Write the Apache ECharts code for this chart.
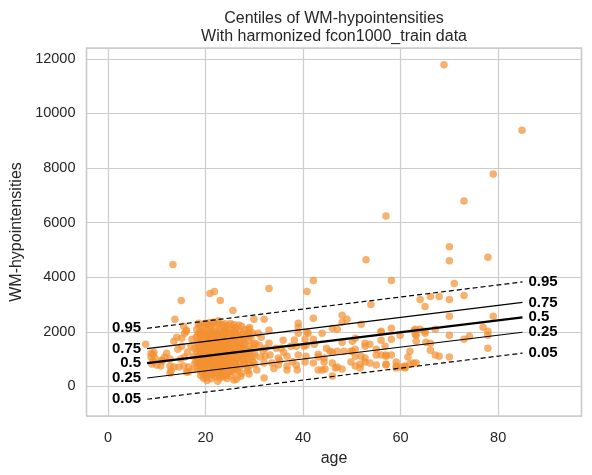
<!DOCTYPE html>
<html><head><meta charset="utf-8">
<script src="https://cdn.jsdelivr.net/npm/echarts@6/dist/echarts.min.js"></script>
<style>html,body{margin:0;padding:0;background:#fff}#c{width:592px;height:475px}</style>
</head><body><div id="c"></div>
<script>
const titleLines = ['Centiles of WM-hypointensities', 'With harmonized fcon1000_train data'];
const xAxisName = 'age';
const yAxisName = 'WM-hypointensities';

// [age, WM-hypointensities]
const youngPts = [[7.7,1545],[8.8,1217],[9.4,1253],[8.8,1071],[9.6,1035],[9.2,925],[9.0,816],[10.0,780],[11.0,962],[10.8,743],[12.9,561],[12.7,743],[11.6,1071],[12.0,1217],[13.5,1654],[14.1,1800],[15.1,1763],[15.1,1472],[14.3,1363],[14.9,998],[15.7,1071],[15.5,743],[14.5,707],[13.5,707],[12.7,488],[16.5,707],[16.1,525],[16.3,1253],[17.0,1472],[17.2,1727],[16.1,2055],[15.5,2200],[15.7,1945],[13.3,4459],[15.0,3148],[13.7,2455],[16.0,2018],[9.2,1180],[11.1,925],[12.7,998],[16.4,525],[17.5,1100],[17.8,850],[17.4,620],[17.7,1380]];

const clusterPts = [[18.6,2310],[20.2,2285],[21.7,2330],[23.4,2270],[25.1,2300],[26.8,2250],
[19.1,2190],[19.8,2215],[21.0,2180],[22.3,2230],[24.2,2170],[27.4,2200],[29.0,2160],
[18.2,2080],[20.6,2120],[22.8,2090],[23.9,2110],[25.6,2060],[26.2,2130],[28.1,2070],
[18.9,2010],[19.5,1980],[21.3,2030],[22.0,1990],[23.1,2015],[24.7,1970],[27.0,2000],[29.6,1960],
[18.4,1890],[20.0,1920],[20.9,1880],[22.6,1910],[24.0,1870],[25.3,1930],[26.5,1890],[28.3,1850],
[18.1,1810],[19.3,1780],[20.4,1820],[21.5,1790],[23.6,1805],[24.4,1770],[25.9,1815],[27.7,1760],[29.3,1790],
[18.7,1690],[19.9,1720],[21.2,1680],[22.2,1710],[23.0,1695],[24.9,1670],[26.0,1705],[27.2,1660],[28.8,1690],
[18.3,1610],[19.6,1580],[20.7,1620],[21.8,1595],[22.9,1570],[23.8,1615],[25.5,1590],[26.7,1560],[28.0,1600],[30.2,1580],
[19.0,1490],[20.3,1520],[21.4,1480],[22.4,1510],[24.1,1470],[25.0,1505],[26.3,1490],[27.5,1460],[29.1,1475],
[18.5,1410],[19.7,1390],[20.8,1420],[21.9,1380],[23.3,1405],[24.6,1375],[25.8,1400],[27.1,1385],[28.4,1360],[29.8,1395],
[18.2,1290],[19.2,1310],[20.5,1280],[21.6,1320],[22.7,1295],[23.7,1270],[24.3,1305],[26.1,1285],[27.9,1300],[28.9,1270],
[18.8,1210],[20.1,1190],[21.1,1220],[22.1,1180],[23.5,1205],[24.8,1175],[25.4,1210],[26.6,1190],[28.2,1165],[30.0,1200],
[18.4,1090],[19.4,1110],[20.6,1080],[21.7,1105],[22.5,1070],[23.2,1095],[24.5,1115],[25.7,1075],[27.3,1090],[29.4,1060],
[18.9,1010],[20.0,990],[21.0,1020],[22.2,985],[23.9,1005],[25.2,975],[26.4,1000],[27.6,980],[28.6,1015],
[18.1,905],[19.5,880],[20.7,915],[21.4,890],[22.8,870],[24.0,910],[24.9,885],[26.9,895],[28.0,860],[29.7,900],
[18.6,810],[19.8,790],[21.3,805],[22.4,780],[23.4,815],[25.1,795],[26.2,770],[27.8,800],[29.2,785],
[18.3,700],[19.1,720],[20.4,690],[21.8,710],[23.0,685],[24.3,705],[25.6,680],[27.0,715],[28.5,690],
[18.8,600],[20.2,585],[21.5,615],[22.6,590],[23.7,605],[25.3,575],[26.6,600],[28.7,580],
[19.3,500],[20.8,485],[22.0,510],[23.2,490],[24.6,470],[26.0,505],[27.4,480],
[19.0,395],[20.5,410],[21.9,380],[23.5,400],[25.0,390],[27.2,370],
[19.6,300],[21.2,280],[22.9,310],[24.4,290],[26.3,260],
[20.3,210],[22.5,190],[25.8,230],
[19.4,1950],[20.6,1750],[21.9,1850],[23.2,1650],[24.5,1550],[20.1,1450],[22.2,1350],[23.8,1250],[19.9,1150],[21.2,1050],[22.9,950],[24.3,850],[20.9,750],[22.4,650],[19.6,550],[23.6,450],[21.6,1600],[20.9,1300],[24.1,1250],[22.6,1450],[19.2,1700],[23.7,1950],[21.1,2250],[24.7,2230],[25.9,2150],[20.4,1000],[23.3,1150],[22.0,1750],[19.0,850],[24.9,1050],
[18.5,2250],[19.9,2300],[20.8,2340],[22.7,2310],[24.0,2290],[25.8,2260],
[18.7,1950],[20.4,1990],[21.7,1960],[23.5,1930],[24.8,1880],[26.1,1960],
[19.6,1850],[21.0,1770],[22.4,1830],[23.2,1750],[25.5,1740],[26.9,1800],
[18.5,1530],[19.8,1640],[21.1,1540],[22.0,1640],[23.5,1540],[24.4,1640],[26.0,1600],[27.8,1530],
[18.9,1340],[20.2,1370],[21.3,1420],[22.9,1370],[24.0,1440],[25.1,1340],[26.9,1450],
[19.1,1240],[20.4,1130],[21.9,1250],[22.9,1150],[24.0,1150],[25.9,1240],[27.0,1200],
[18.6,950],[19.8,1060],[21.6,960],[23.1,1040],[24.4,980],[25.8,940],[26.9,1050],
[19.3,760],[20.0,860],[21.6,840],[23.0,780],[24.6,760],[25.9,850],
[18.9,650],[20.7,620],[21.9,560],[23.3,630],[24.9,620],[26.2,650],
[19.9,450],[21.3,440],[22.7,420],[24.2,430],[20.0,330],[23.8,340],
[20.9,3402],[21.8,3475],[23.0,3148],[25.6,2783],[22.6,2404],[21.5,2346],[24.0,2018],[25.0,1945],[27.7,1945],[28.5,1909],[30.8,1945]];

const midPts = [[33.0,3585],[42.1,3876],[40.8,3475],[42.1,2492],[48.0,2601],[39.0,2310],[29.9,2455],[32.0,2455],[33.0,2055],[28.9,2091],[29.1,1909],[40.8,1982],[46.0,2127],[47.0,2091],[48.0,2346],[49.0,2455],[48.0,1617],[50.1,1654],[35.9,1690],[37.5,1472],[38.6,1472],[40.4,1727],[40.6,1508],[42.3,1545],[29.9,1545],[31.0,1508],[32.2,1399],[34.5,1399],[35.5,1399],[28.3,1144],[28.9,1217],[29.9,1107],[31.2,1071],[32.2,1107],[33.2,1144],[34.9,1035],[36.7,1107],[39.0,1144],[40.6,1107],[43.1,1071],[44.3,1035],[46.0,1253],[47.0,1290],[48.4,1290],[50.1,1290],[28.7,889],[30.1,816],[32.0,852],[33.6,852],[34.9,780],[36.7,743],[38.6,780],[40.4,889],[42.1,852],[44.3,889],[46.0,852],[28.9,452],[32.0,306],[36.7,597],[38.8,597],[43.1,597],[44.5,634],[46.0,379],[46.6,670],[48.0,634],[39.0,2164],[41.0,1945],[43.9,1945],[39.0,1945],[42.1,1727],[31.4,1800],[33.0,1581],[40.2,1472],[43.1,1180],[45.5,1290],[43.9,597],[47.0,707],[30.5,600],[34.0,650],[35.2,950],[37.8,900],[31.8,1300],[36.0,1250],[44.8,1400],[38.2,1700]];

const oldPts = [[52.9,4641],[58.1,3876],[53.9,3002],[56.0,2018],[58.1,2127],[62.8,2055],[63.2,1872],[51.9,2273],[52.7,1581],[52.7,1472],[55.0,1363],[56.0,1144],[57.0,1144],[58.1,1144],[61.9,1290],[61.5,1071],[57.0,816],[59.1,889],[60.9,707],[62.6,852],[50.7,1763],[50.7,1363],[53.7,1545],[66.1,1326],[49.8,1290],[56.8,1472],[56.0,1982],[63.0,2091],[64.0,2091],[65.0,2018],[67.1,2091],[59.9,1872],[63.0,1909],[56.0,1690],[58.1,1727],[63.2,1654],[65.2,1617],[50.7,1107],[51.9,1107],[52.7,1035],[55.0,1144],[57.0,1107],[49.8,889],[51.7,816],[52.7,889],[53.7,852],[55.0,780],[57.0,780],[59.1,743],[60.1,707],[60.9,743],[61.9,816],[50.7,743],[51.7,670],[59.1,670],[60.9,670],
[57.0,6244],[68.9,11781],[84.9,9377],[79.0,7774],[73.0,6790],[70.0,5115],[70.0,4605],[77.9,4725],[71.0,3767],[73.0,3330],[64.0,3184],[66.1,3293],[67.9,3293],[70.0,3184],[65.0,2929],[70.0,2565],[79.0,2565],[76.9,2164],[77.9,2018],[77.9,1872],[65.0,1945],[70.0,1872],[74.1,1836],[73.0,1727],[66.1,1581],[77.9,1399],[67.1,1144],[67.9,1107],[70.0,1071],[63.2,852]];

const centileNames = ['0.05', '0.25', '0.5', '0.75', '0.95'];
const centileAges = [8, 85];
const centileStartValues = [-473, 306, 852, 1384, 2127];
const centileEndValues = [1216, 1982, 2528, 3074, 3825];

const FONT = "'Liberation Sans', Arial, sans-serif";
const TXT = '#262626';

const allPts = youngPts.concat(clusterPts, midPts, oldPts);

const centileSeries = centileNames.map((nm, i) => {
  const dashed = nm === '0.05' || nm === '0.95';
  const lbl = {show: true, fontFamily: FONT, fontSize: 15, fontWeight: 'bold', color: '#000', formatter: nm, distance: 6};
  return {
    type: 'line', name: nm, z: 5, silent: true,
    symbol: 'circle', symbolSize: 0, showSymbol: true,
    lineStyle: {color: '#000', width: nm === '0.5' ? 2.4 : 1.2, type: dashed ? [5, 3] : 'solid'},
    itemStyle: {color: '#000'},
    data: [
      {value: [centileAges[0], centileStartValues[i]], label: Object.assign({}, lbl, {position: 'left'})},
      {value: [centileAges[1], centileEndValues[i]], label: Object.assign({}, lbl, {position: 'right'})}
    ]
  };
});

const chart = echarts.init(document.getElementById('c'), null, {renderer: 'canvas'});
chart.setOption({
  animation: false,
  backgroundColor: '#fff',
  graphic: [{
    type: 'text', x: 334, y: 10,
    style: {text: titleLines.join('\n'), fontFamily: FONT, fontSize: 16, lineHeight: 18, fill: TXT, align: 'center', verticalAlign: 'top'}
  }],
  grid: {left: 86.5, right: 10.5, top: 48, bottom: 59, show: true, borderColor: '#cccccc', borderWidth: 1.5, backgroundColor: 'transparent'},
  xAxis: {
    type: 'value', min: -4.43, max: 97.1, splitNumber: 5,
    name: xAxisName, nameLocation: 'middle', nameGap: 35,
    nameTextStyle: {fontFamily: FONT, fontSize: 16, color: TXT},
    axisLine: {show: false}, axisTick: {show: false},
    axisLabel: {fontFamily: FONT, fontSize: 14.5, color: TXT, margin: 14, showMinLabel: false, showMaxLabel: false, formatter: v => String(v)},
    splitLine: {show: true, lineStyle: {color: '#cccccc', width: 1.2}}
  },
  yAxis: {
    type: 'value', min: -1086, max: 12394, splitNumber: 7,
    name: yAxisName, nameLocation: 'middle', nameGap: 59, nameRotate: 90,
    nameTextStyle: {fontFamily: FONT, fontSize: 16, color: TXT},
    axisLine: {show: false}, axisTick: {show: false},
    axisLabel: {fontFamily: FONT, fontSize: 14.5, color: TXT, margin: 11, showMinLabel: false, showMaxLabel: false, formatter: v => String(v)},
    splitLine: {show: true, lineStyle: {color: '#cccccc', width: 1.2}}
  },
  series: [{
    type: 'scatter', name: 'data', z: 2, silent: true,
    symbolSize: 7.5,
    itemStyle: {color: 'rgb(243,144,48)', opacity: 0.7},
    data: allPts
  }].concat(centileSeries)
});
</script></body></html>
